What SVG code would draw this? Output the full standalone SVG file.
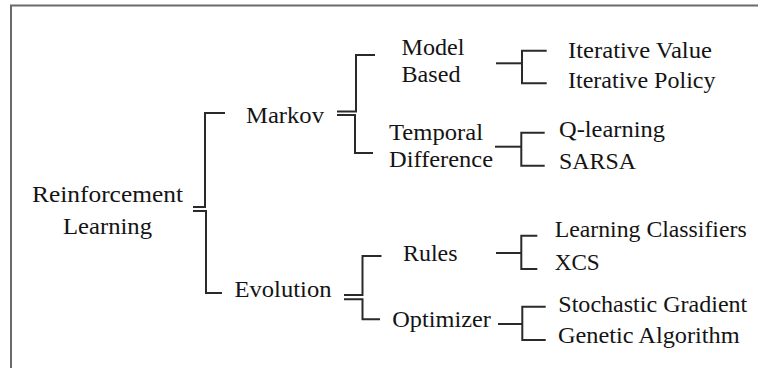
<svg xmlns="http://www.w3.org/2000/svg" width="758" height="368" viewBox="0 0 758 368">
<style>
.c{fill:none;stroke:#2a2a2a;stroke-width:2}
.f{fill:none;stroke:#6a6a6a;stroke-width:2}
</style>
<rect width="758" height="368" fill="#fff"/>
<path class="f" d="M11 370 V5.5 H760"/>
<g id="connectors">
<path class="c" d="M193 207 H205 V113 H225"/>
<path class="c" d="M193 211 H206 V293 H222"/>
<path class="c" d="M337 111.5 H356 V55 H375"/>
<path class="c" d="M337 115 H355 V153 H373"/>
<path class="c" d="M344 295 H362.5 V256 H381.5"/>
<path class="c" d="M344 299.3 H362.5 V319.3 H380"/>
<path class="c" d="M496 63.3 H522"/>
<path class="c" d="M546.7 50.7 H522 V83.3 H546.7"/>
<path class="c" d="M495 146.7 H521"/>
<path class="c" d="M544.7 132.7 H521.3 V165.7 H544.7"/>
<path class="c" d="M496 253 H521"/>
<path class="c" d="M537.3 235.7 H521.3 V269 H537.3"/>
<path class="c" d="M498 324 H522"/>
<path class="c" d="M545.7 306.7 H522.3 V340 H545.7"/>
</g>
<g id="rl"><text font-family="Liberation Serif" font-size="23" fill="#141414" x="32" y="202" textLength="151" lengthAdjust="spacingAndGlyphs">Reinforcement</text><text font-family="Liberation Serif" font-size="23" fill="#141414" x="63" y="234" textLength="89" lengthAdjust="spacingAndGlyphs">Learning</text></g>
<g id="markov"><text font-family="Liberation Serif" font-size="23" fill="#141414" x="246" y="123" textLength="78" lengthAdjust="spacingAndGlyphs">Markov</text></g>
<g id="evolution"><text font-family="Liberation Serif" font-size="23" fill="#141414" x="234.5" y="297" textLength="97" lengthAdjust="spacingAndGlyphs">Evolution</text></g>
<g id="model"><text font-family="Liberation Serif" font-size="23" fill="#141414" x="401.5" y="55" textLength="63" lengthAdjust="spacingAndGlyphs">Model</text><text font-family="Liberation Serif" font-size="23" fill="#141414" x="401.5" y="81.7" textLength="59" lengthAdjust="spacingAndGlyphs">Based</text></g>
<g id="td"><text font-family="Liberation Serif" font-size="23" fill="#141414" x="389" y="139.5" textLength="94" lengthAdjust="spacingAndGlyphs">Temporal</text><text font-family="Liberation Serif" font-size="23" fill="#141414" x="389" y="166.5" textLength="104" lengthAdjust="spacingAndGlyphs">Difference</text></g>
<g id="iv"><text font-family="Liberation Serif" font-size="23" fill="#141414" x="568" y="58.3" textLength="144" lengthAdjust="spacingAndGlyphs">Iterative Value</text></g>
<g id="ip"><text font-family="Liberation Serif" font-size="23" fill="#141414" x="568" y="88" textLength="147.5" lengthAdjust="spacingAndGlyphs">Iterative Policy</text></g>
<g id="ql"><text font-family="Liberation Serif" font-size="23" fill="#141414" x="559" y="136.7" textLength="106" lengthAdjust="spacingAndGlyphs">Q-learning</text></g>
<g id="sarsa"><text font-family="Liberation Serif" font-size="23" fill="#141414" x="559" y="169.3" textLength="77" lengthAdjust="spacingAndGlyphs">SARSA</text></g>
<g id="rules"><text font-family="Liberation Serif" font-size="23" fill="#141414" x="403" y="260.5" textLength="54.5" lengthAdjust="spacingAndGlyphs">Rules</text></g>
<g id="optimizer"><text font-family="Liberation Serif" font-size="23" fill="#141414" x="392.3" y="327" textLength="98.5" lengthAdjust="spacingAndGlyphs">Optimizer</text></g>
<g id="lc"><text font-family="Liberation Serif" font-size="23" fill="#141414" x="554.7" y="237.3" textLength="192" lengthAdjust="spacingAndGlyphs">Learning Classifiers</text></g>
<g id="xcs"><text font-family="Liberation Serif" font-size="23" fill="#141414" x="554.7" y="270" textLength="45" lengthAdjust="spacingAndGlyphs">XCS</text></g>
<g id="sg"><text font-family="Liberation Serif" font-size="23" fill="#141414" x="558.3" y="312.3" textLength="189" lengthAdjust="spacingAndGlyphs">Stochastic Gradient</text></g>
<g id="ga"><text font-family="Liberation Serif" font-size="23" fill="#141414" x="558" y="343.3" textLength="181.7" lengthAdjust="spacingAndGlyphs">Genetic Algorithm</text></g>
</svg>
